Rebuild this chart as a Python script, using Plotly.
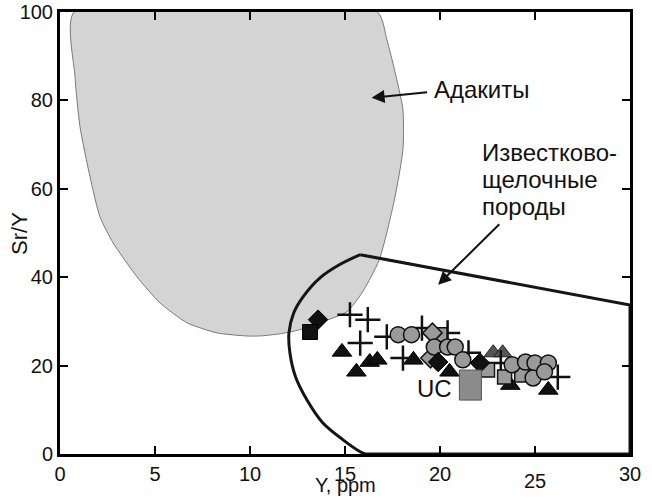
import plotly.graph_objects as go

# ---- field outlines (data units) ----
adakite_x = [0.74, 0.79, 1.05, 1.58, 2.1, 2.79, 4.05, 5.26, 6.68, 8.26, 9.84, 10.5, 11.6, 12.6,
             13.8, 15.1, 15.9, 16.8, 17.6, 18.05, 18.05, 17.6, 17.2, 16.7, 0.74]
adakite_y = [100, 85.4, 74.1, 62.7, 53.7, 47.8, 40.1, 34.2, 29.7, 27.4, 26.7, 26.7, 27.2, 28.1,
             29.9, 32.2, 36.5, 43.9, 57.5, 68.9, 77.9, 87.0, 93.8, 100, 100]

calc_curve_x = [16.05, 15.8, 14.9, 13.8, 13.0, 12.4, 12.1, 12.05, 12.3, 12.8, 13.7, 14.7, 15.8]
calc_curve_y = [0, 0.5, 3.2, 7.2, 12.2, 17.4, 22.9, 27.4, 31.9, 35.6, 39.9, 42.8, 45.1]
calc_line_x = [15.8, 30, 30, 16.05]
calc_line_y = [45.1, 33.7, 0, 0]

# ---- samples ----
blk_sq_x = [13.16]
blk_sq_y = [27.6]
blk_dia_x = [13.58, 19.9, 22.1]
blk_dia_y = [30.4, 20.8, 20.6]
plus_x = [15.26, 16.2, 15.8, 17.2, 18.05, 19.05, 20.4, 21.5, 23.2, 26.2]
plus_y = [31.5, 30.4, 25.1, 26.5, 21.7, 28.5, 27.4, 22.9, 20.6, 17.4]
tri_x = [14.84, 15.6, 16.3, 16.7, 18.6, 20.5, 23.7, 25.7]
tri_y = [23.1, 18.6, 20.8, 21.3, 21.3, 18.6, 15.6, 14.5]
dtri_x = [22.8, 23.3]
dtri_y = [22.9, 22.9]
gdia_x = [19.6, 19.5]
gdia_y = [27.4, 21.7]
gsq_x = [20.0, 22.5, 23.4, 24.3]
gsq_y = [27.0, 19.0, 17.4, 17.9]
circ_x = [17.8, 18.5, 19.7, 20.4, 20.8, 21.2, 23.8, 24.5, 25.0, 25.7, 24.9, 25.5]
circ_y = [27.0, 27.0, 24.2, 24.2, 24.2, 21.3, 20.2, 20.8, 20.6, 20.6, 17.2, 18.6]
uc_x = 21.6
uc_y = 15.6

calc_label_lines = ["Известково-", "щелочные", "породы"]
calc_label_y = [68.2, 62.1, 55.9]

x_ticks = [0, 5, 10, 15, 20, 25, 30]
x_tick_text = ["0", "5", "10", "15", "20", "", "30"]
y_ticks = [0, 20, 40, 60, 80, 100]

FONT = "Liberation Sans, Arial, sans-serif"

fig = go.Figure()
fig.add_trace(go.Scatter(x=adakite_x, y=adakite_y, mode="lines", fill="toself",
                         fillcolor="#d4d4d4", line=dict(color="#7a7a7a", width=1, shape="spline", smoothing=0.6),
                         hoverinfo="skip"))
fig.add_trace(go.Scatter(x=calc_curve_x, y=calc_curve_y, mode="lines",
                         line=dict(color="#151515", width=3, shape="spline"), hoverinfo="skip"))
fig.add_trace(go.Scatter(x=calc_line_x, y=calc_line_y, mode="lines",
                         line=dict(color="#151515", width=3), hoverinfo="skip"))

fig.add_trace(go.Scatter(x=tri_x, y=tri_y, mode="markers",
                         marker=dict(symbol="triangle-up", size=17, color="#111111",
                                     line=dict(color="#000000", width=1))))
fig.add_trace(go.Scatter(x=dtri_x, y=dtri_y, mode="markers",
                         marker=dict(symbol="triangle-up", size=16, color="#555555",
                                     line=dict(color="#222222", width=1))))
fig.add_trace(go.Scatter(x=plus_x, y=plus_y, mode="markers",
                         marker=dict(symbol="cross-thin", size=18,
                                     line=dict(color="#111111", width=2.5))))
fig.add_trace(go.Scatter(x=gsq_x, y=gsq_y, mode="markers",
                         marker=dict(symbol="square", size=14, color="#9a9a9a",
                                     line=dict(color="#111111", width=1.5))))
fig.add_trace(go.Scatter(x=gdia_x, y=gdia_y, mode="markers",
                         marker=dict(symbol="diamond", size=15, color="#9a9a9a",
                                     line=dict(color="#111111", width=1.5))))
fig.add_trace(go.Scatter(x=circ_x, y=circ_y, mode="markers",
                         marker=dict(symbol="circle", size=16, color="#9a9a9a",
                                     line=dict(color="#111111", width=1.5))))
fig.add_trace(go.Scatter(x=blk_dia_x, y=blk_dia_y, mode="markers",
                         marker=dict(symbol="diamond", size=15, color="#111111",
                                     line=dict(color="#000000", width=1))))
fig.add_trace(go.Scatter(x=blk_sq_x, y=blk_sq_y, mode="markers",
                         marker=dict(symbol="square", size=15, color="#111111",
                                     line=dict(color="#000000", width=1))))

# UC reference rectangle
fig.add_shape(type="rect", xref="x", yref="y",
              x0=uc_x - 0.58, x1=uc_x + 0.58, y0=uc_y - 3.4, y1=uc_y + 3.4,
              fillcolor="#8c8c8c", line=dict(color="#555555", width=1), layer="above")

ann = [
    dict(x=19.6, y=82.4, xref="x", yref="y", text="Адакиты", showarrow=False,
         xanchor="left", yanchor="middle", font=dict(size=24)),
    dict(x=16.4, y=80.6, ax=19.4, ay=81.9, xref="x", yref="y", axref="x", ayref="y",
         text="", showarrow=True, arrowhead=2, arrowsize=1.3, arrowwidth=2, arrowcolor="#111111"),
    dict(x=19.9, y=38.3, ax=23.2, ay=52.3, xref="x", yref="y", axref="x", ayref="y",
         text="", showarrow=True, arrowhead=2, arrowsize=1.3, arrowwidth=2, arrowcolor="#111111"),
    dict(x=19.7, y=14.9, xref="x", yref="y", text="UC", showarrow=False,
         xanchor="center", yanchor="middle", font=dict(size=24)),
    dict(x=25, y=-0.06, xref="x", yref="paper", text="25", showarrow=False,
         xanchor="center", yanchor="middle", font=dict(size=20)),
    dict(x=0.5, y=-0.097, xref="paper", yref="paper", text="Y, ppm", showarrow=False,
         xanchor="center", yanchor="bottom", borderpad=0, font=dict(size=20)),
    dict(x=-0.072, y=0.5, xref="paper", yref="paper", text="Sr/Y", showarrow=False,
         textangle=-90, xanchor="center", yanchor="middle", font=dict(size=22)),
]
for line_text, ly in zip(calc_label_lines, calc_label_y):
    ann.append(dict(x=22.1, y=ly, xref="x", yref="y", text=line_text, showarrow=False,
                    xanchor="left", yanchor="middle", font=dict(size=24)))

fig.update_layout(
    width=652, height=499,
    margin=dict(l=60, r=22, t=12, b=45),
    paper_bgcolor="white", plot_bgcolor="white",
    showlegend=False,
    font=dict(family=FONT, color="#111111", size=20),
    annotations=ann,
    xaxis=dict(range=[0, 30], tickmode="array", tickvals=x_ticks, ticktext=x_tick_text,
               ticks="inside", ticklen=8, tickwidth=2, tickcolor="#000000",
               showline=True, linewidth=3, linecolor="#000000", mirror="ticks",
               showgrid=False, zeroline=False, automargin=False,
               ticklabeloverflow="allow", tickfont=dict(size=20)),
    yaxis=dict(range=[0, 100], tickmode="array", tickvals=y_ticks,
               ticks="inside", ticklen=8, tickwidth=2, tickcolor="#000000",
               showline=True, linewidth=3, linecolor="#000000", mirror="ticks",
               showgrid=False, zeroline=False, automargin=False,
               ticklabeloverflow="allow", tickfont=dict(size=20)),
)

fig.write_html("out.html", config={"displayModeBar": False},
               post_script="document.body.style.margin='0';document.body.style.overflow='hidden';")
